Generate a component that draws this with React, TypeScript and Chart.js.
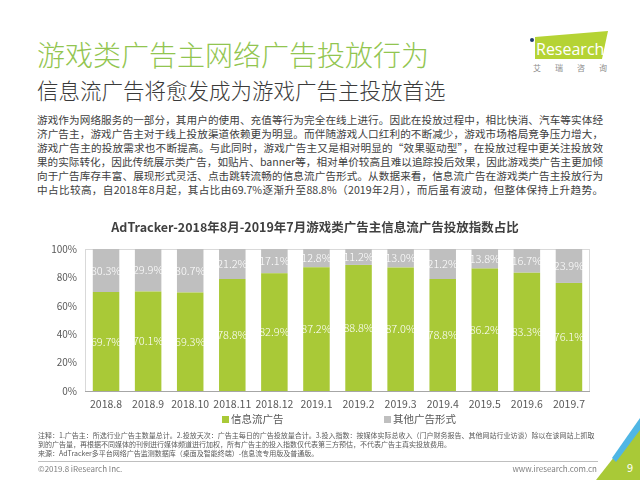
import React, { useEffect, useRef } from 'react';
import { Chart, registerables } from 'chart.js';

Chart.register(...registerables);

// ---------- data ----------
const categories = ['2018.8', '2018.9', '2018.10', '2018.11', '2018.12', '2019.1', '2019.2', '2019.3', '2019.4', '2019.5', '2019.6', '2019.7'];
const feedAds = [69.7, 70.1, 69.3, 78.8, 82.9, 87.2, 88.8, 87.0, 78.8, 86.2, 83.3, 76.1];
const otherAds = [30.3, 29.9, 30.7, 21.2, 17.1, 12.8, 11.2, 13.0, 21.2, 13.8, 16.7, 23.9];
const seriesNames = ['信息流广告', '其他广告形式'];
const yTicks = [0, 20, 40, 60, 80, 100];
const chartTitle = 'AdTracker-2018年8月-2019年7月游戏类广告主信息流广告投放指数占比';

const pageTitle = '游戏类广告主网络广告投放行为';
const pageSubtitle = '信息流广告将愈发成为游戏广告主投放首选';
const paragraphLines = [
  '游戏作为网络服务的一部分，其用户的使用、充值等行为完全在线上进行。因此在投放过程中，相比快消、汽车等实体经',
  '济广告主，游戏广告主对于线上投放渠道依赖更为明显。而伴随游戏人口红利的不断减少，游戏市场格局竞争压力增大，',
  '游戏广告主的投放需求也不断提高。与此同时，游戏广告主又是相对明显的“效果驱动型”，在投放过程中更关注投放效',
  '果的实际转化，因此传统展示类广告，如贴片、banner等，相对单价较高且难以追踪投后效果，因此游戏类广告主更加倾',
  '向于广告库存丰富、展现形式灵活、点击跳转流畅的信息流广告形式。从数据来看，信息流广告在游戏类广告主投放行为',
  '中占比较高，自2018年8月起，其占比由69.7%逐渐升至88.8%（2019年2月），而后虽有波动，但整体保持上升趋势。',
];
const noteLines = [
  '注释：1.广告主：所选行业广告主数量总计。2.投放天次：广告主每日的广告投放量合计。3.投入指数：按媒体实际总收入（门户财务报告、其他网站行业访谈）除以在该网站上抓取',
  '到的广告量，再根据不同媒体的刊例进行媒体频道进行加权，所有广告主的投入指数仅代表第三方预估，不代表广告主真实投放费用。',
  '来源：AdTracker多平台网络广告监测数据库（桌面及智能终端）-信息流专用版及普通版。',
];

const GREEN = '#a9c937';
const GRAY = '#bfbfbf';
const FONT = '"Noto Sans CJK SC", "Noto Sans", sans-serif';
const colors = [GREEN, GRAY];

const framePlugin = {
  id: 'frame',
  beforeDatasetsDraw(chart: any) {
    const { ctx, chartArea: a } = chart;
    ctx.save();
    ctx.strokeStyle = '#d9d9d9';
    ctx.lineWidth = 1;
    ctx.strokeRect(Math.round(a.left) + 0.5, Math.round(a.top) + 0.5, Math.round(a.right - a.left) - 1, Math.round(a.bottom - a.top));
    ctx.restore();
  },
  afterDatasetsDraw(chart: any) {
    const { ctx, chartArea: a } = chart;
    ctx.save();
    ctx.strokeStyle = '#a6a6a6';
    ctx.lineWidth = 1;
    ctx.beginPath();
    const y = Math.round(a.bottom) + 0.5;
    ctx.moveTo(a.left, y);
    ctx.lineTo(a.right, y);
    ctx.stroke();
    ctx.restore();
  },
};

const barLabelPlugin = {
  id: 'barLabels',
  afterDatasetsDraw(chart: any) {
    const { ctx } = chart;
    ctx.save();
    ctx.fillStyle = '#ffffff';
    ctx.font = `300 11px ${FONT}`;
    ctx.textAlign = 'center';
    ctx.textBaseline = 'middle';
    chart.data.datasets.forEach((ds: any, i: number) => {
      const meta = chart.getDatasetMeta(i);
      meta.data.forEach((bar: any, j: number) => {
        const p = bar.getProps(['x', 'y', 'base'], true);
        ctx.fillText(Number(ds.data[j]).toFixed(1) + '%', p.x, (p.y + p.base) / 2);
      });
    });
    ctx.restore();
  },
};

function BarChart() {
  const ref = useRef<HTMLCanvasElement | null>(null);
  useEffect(() => {
    if (!ref.current) return;
    const chart = new Chart(ref.current, {
      type: 'bar',
      data: {
        labels: categories,
        datasets: [feedAds, otherAds].map((d, i) => ({
          label: seriesNames[i],
          data: d,
          backgroundColor: colors[i],
          borderWidth: 0,
          barPercentage: 0.63,
          categoryPercentage: 1,
        })),
      },
      options: {
        animation: false,
        responsive: false,
        maintainAspectRatio: false,
        layout: { padding: { left: 0, right: 38, top: 0, bottom: 0 } },
        plugins: {
          legend: { display: false },
          tooltip: { enabled: false },
          title: {
            display: true,
            text: chartTitle,
            color: '#404040',
            font: { family: FONT, size: 12.5, weight: 'bold' },
            padding: { top: 8, bottom: 14 },
          },
        },
        scales: {
          x: {
            stacked: true,
            grid: { display: false, drawTicks: false },
            border: { display: false },
            ticks: { color: '#595959', font: { family: FONT, size: 10.5 }, padding: 7, maxRotation: 0, autoSkip: false },
            afterFit: (s: any) => { s.height = 21; },
          },
          y: {
            stacked: true,
            min: 0,
            max: 100,
            grid: { display: false, drawTicks: false },
            border: { display: false },
            ticks: { color: '#595959', font: { family: FONT, size: 10 }, padding: 8, callback: (v: any) => v + '%' },
            afterBuildTicks: (s: any) => { s.ticks = yTicks.map((v) => ({ value: v })); },
            afterFit: (s: any) => { s.width = 45; },
          },
        },
      } as any,
      plugins: [framePlugin, barLabelPlugin],
    });
    return () => chart.destroy();
  }, []);
  return (
    <canvas
      ref={ref}
      width={588}
      height={200}
      style={{ position: 'absolute', left: 40, top: 212, width: 588, height: 200 }}
    />
  );
}

export default function App() {
  const legendPos = [222, 384];
  return (
    <div style={{ position: 'absolute', left: 0, top: 0, width: 640, height: 480, background: '#ffffff', overflow: 'hidden', fontFamily: FONT }}>
      {/* page titles */}
      <div style={{ position: 'absolute', left: 37, top: 36, fontSize: 28, fontWeight: 300, lineHeight: '36px', color: '#92c550', whiteSpace: 'nowrap' }}>{pageTitle}</div>
      <div style={{ position: 'absolute', left: 37, top: 76, fontSize: 21.5, fontWeight: 300, lineHeight: '28px', color: '#3a3a3a', whiteSpace: 'nowrap' }}>{pageSubtitle}</div>

      {/* logo + decorations */}
      <svg style={{ position: 'absolute', left: 0, top: 0 }} width={640} height={480}>
        <polygon points="535,37 608,31 602,59 535,59" fill="#b5d334" />
        <circle cx={532} cy={40} r={2} fill="#1f3a6e" />
        <rect x={530.5} y={44} width={3} height={13} fill="#ffffff" />
        <text x={536} y={55} fill="#ffffff" fontSize={16} fontFamily='"Open Sans", sans-serif'>Research</text>
        <text x={533} y={71} fill="#8c8c8c" fontSize={8} fontFamily={FONT} letterSpacing={14}>艾瑞咨询</text>
        <polygon points="596,480 640,424 640,480" fill="#a9c937" />
        <polygon points="612,458 640,418 640,430 616,462" fill="#4fb6e4" />
        <text x={627} y={472} fill="#ffffff" fontSize={11} fontFamily={FONT}>9</text>
        <line x1={38} y1={461.5} x2={598} y2={461.5} stroke="#bfbfbf" strokeWidth={1} />
      </svg>

      {/* paragraph */}
      {paragraphLines.map((t, i) => (
        <div key={i} style={{ position: 'absolute', left: 37, top: 113 + i * 13.9, width: 566, fontSize: 10.6, lineHeight: '14px', color: '#404040', textAlign: 'justify', textAlignLast: 'justify', whiteSpace: 'nowrap' } as any}>{t}</div>
      ))}

      <BarChart />

      {/* legend */}
      {seriesNames.map((n, i) => (
        <div key={n} style={{ position: 'absolute', left: legendPos[i], top: 412, fontSize: 10.5, lineHeight: '14px', color: '#595959', whiteSpace: 'nowrap', display: 'flex', alignItems: 'center' }}>
          <span style={{ display: 'inline-block', width: 7, height: 7, background: colors[i], marginRight: 2 }} />
          {n}
        </div>
      ))}

      {/* notes */}
      {noteLines.map((t, i) => (
        <div key={i} style={{ position: 'absolute', left: 38, top: 431 + i * 8.8, fontSize: 7, lineHeight: '9px', color: '#595959', whiteSpace: 'nowrap' }}>{t}</div>
      ))}

      {/* footer */}
      <div style={{ position: 'absolute', left: 38, top: 464, fontSize: 8, lineHeight: '10px', color: '#7f7f7f', whiteSpace: 'nowrap' }}>©2019.8 iResearch Inc.</div>
      <div style={{ position: 'absolute', right: 43, top: 464, fontSize: 8, lineHeight: '10px', color: '#7f7f7f', whiteSpace: 'nowrap' }}>www.iresearch.com.cn</div>
    </div>
  );
}
